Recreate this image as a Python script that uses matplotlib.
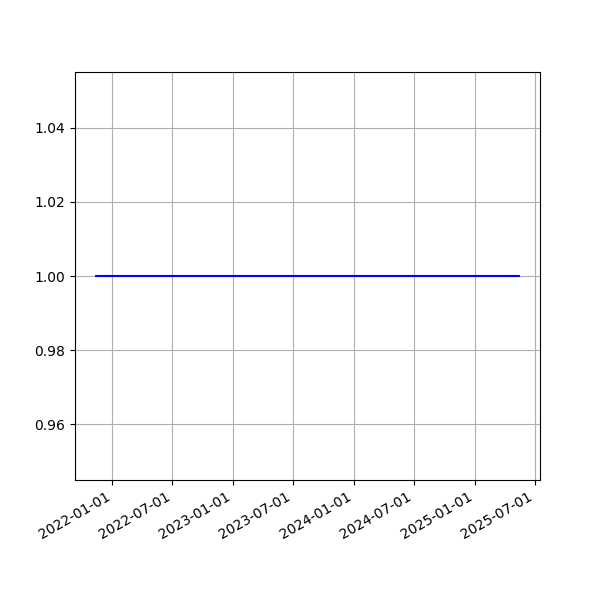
import matplotlib
matplotlib.use('Agg')
import matplotlib.pyplot as plt
import matplotlib.dates as mdates
import numpy as np
import pandas as pd


start_date = '2021-11-13'
end_date = '2025-05-14'
level = 1.0

dates = pd.date_range(start_date, end_date, freq='D')
values = np.full(len(dates), level)

fig, ax = plt.subplots(figsize=(6, 6), dpi=100)
ax.plot(dates, values, color='blue')
ax.xaxis.set_major_locator(mdates.MonthLocator(bymonth=[1, 7]))
ax.xaxis.set_major_formatter(mdates.DateFormatter('%Y-%m-%d'))
ax.grid(True)
fig.autofmt_xdate()

fig.savefig('out.png')
